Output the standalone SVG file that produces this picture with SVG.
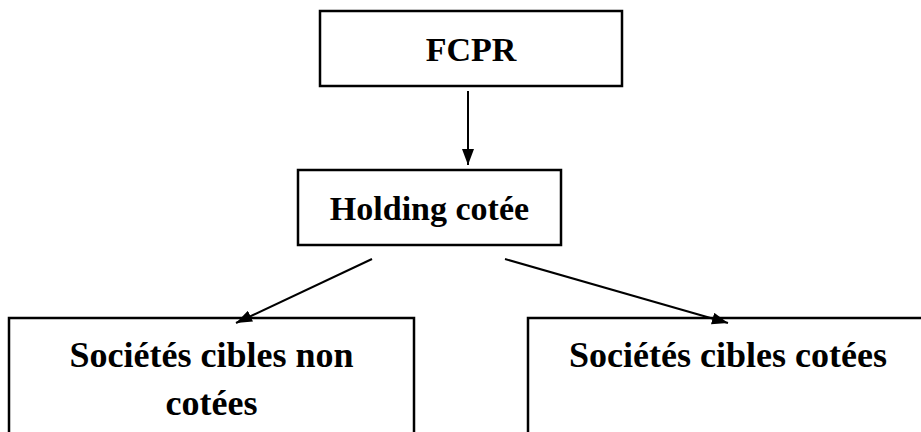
<svg xmlns="http://www.w3.org/2000/svg" width="921" height="432" viewBox="0 0 921 432">
  <defs>
    <marker id="arrow" viewBox="0 0 16 12" refX="16" refY="6" markerWidth="16" markerHeight="12" markerUnits="userSpaceOnUse" orient="auto">
      <path d="M0,0 L16,6 L0,12 Z" fill="#000"/>
    </marker>
  </defs>
  <style>
    .box { fill: #fff; stroke: #000; stroke-width: 2.5; }
    .label { font-family: "Liberation Serif", "Times New Roman", serif; font-weight: bold; font-size: 34px; fill: #000; text-anchor: middle; }
    .label.big { font-size: 36px; }
    .edge { stroke: #000; stroke-width: 2; fill: none; marker-end: url(#arrow); }
  </style>
  <rect width="921" height="432" fill="#fff"/>

  <g id="node-fcpr">
    <rect class="box" x="320" y="11" width="302" height="75"/>
    <text class="label" x="471" y="61">FCPR</text>
  </g>

  <g id="node-holding">
    <rect class="box" x="298" y="170" width="263" height="75"/>
    <text class="label" x="429.5" y="220">Holding cotée</text>
  </g>

  <g id="node-non-cotees">
    <rect class="box" x="9" y="318" width="405" height="130"/>
    <text class="label big" x="211.5" y="367">Sociétés cibles non</text>
    <text class="label big" x="211.5" y="415">cotées</text>
  </g>

  <g id="node-cotees">
    <rect class="box" x="528" y="318" width="400" height="130"/>
    <text class="label big" x="728" y="367">Sociétés cibles cotées</text>
  </g>

  <g id="connectors">
    <line class="edge" x1="468" y1="91" x2="468" y2="165"/>
    <line class="edge" x1="372" y1="259" x2="236" y2="323"/>
    <line class="edge" x1="505" y1="259" x2="728" y2="323"/>
  </g>
</svg>
